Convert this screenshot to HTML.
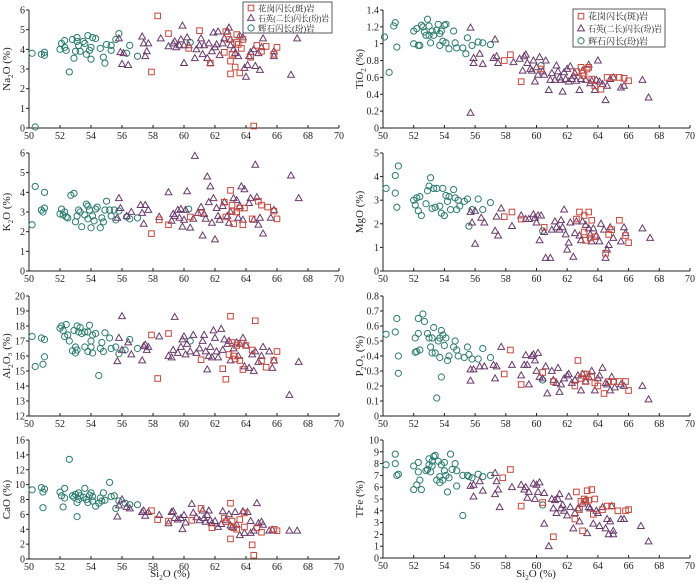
<!DOCTYPE html>
<html><head><meta charset="utf-8">
<style>
html,body{margin:0;padding:0;background:#fff;}
svg{display:block;font-family:"Liberation Serif","Noto Serif CJK SC",serif;}
</style></head>
<body>
<svg id="chart" width="700" height="584" viewBox="0 0 700 584" xmlns="http://www.w3.org/2000/svg"></svg>
<script>
// ---- data: [SiO2, oxide] per series ----
const na2oGranodiorite=[[57.9,2.85],[58.3,5.7],[59,4.8],[60.3,4.05],[61,4.95],[61.7,3.3],[62.6,3.85],[62.7,4.9],[62.9,4.5],[63,3.4],[63,2.75],[63.1,3.75],[63.3,3.1],[63.4,4.35],[63.4,4.75],[63.5,4.25],[63.6,2.8],[63.7,4.05],[63.8,4.5],[64.3,3.6],[64.5,0.1],[64.7,4.2],[65,3.9],[65.3,4.15],[65.8,3.75],[66,4.1]];
const na2oQuartzDiorite=[[55.8,4.55],[55.9,3.85],[56,3.25],[56.1,3.8],[56.4,3.2],[57.3,4.65],[57.4,4.3],[57.5,3.65],[57.6,3.9],[57.7,4.3],[58.5,4.55],[59,4.15],[59.3,4.3],[59.4,4.4],[59.5,4.1],[59.7,4.2],[59.8,4.5],[59.9,5.2],[60,3.3],[60,4.2],[60.2,4.6],[60.3,4.2],[60.7,3.55],[60.8,4.0],[61,4.2],[61.1,4.55],[61.2,3.75],[61.3,4.2],[61.5,3.55],[61.6,4.3],[61.7,3.3],[61.8,3.9],[61.9,4.85],[62,4.1],[62.1,4.25],[62.2,4.9],[62.3,3.7],[62.5,4.3],[62.6,4.55],[62.8,4.9],[62.9,5.1],[63,4.2],[63,4.5],[63.2,4.0],[63.3,3.8],[63.5,3.65],[63.6,4.7],[63.8,4.6],[63.9,3.05],[64,2.6],[64.1,3.2],[64.2,3.65],[64.3,3.85],[64.5,4.0],[64.6,3.15],[64.8,3.8],[64.9,2.95],[65,4.1],[65.1,4.55],[65.8,3.65],[65.8,3.9],[66.9,2.7],[67.3,4.55]];
const na2oPyroxeneDiorite=[[50.2,3.8],[50.4,0.05],[50.8,3.75],[51,3.85],[51,3.7],[52,4.0],[52.1,4.3],[52.3,4.45],[52.3,4.1],[52.4,3.95],[52.6,2.85],[52.8,4.5],[52.9,3.55],[53,3.9],[53.1,4.6],[53.1,4.4],[53.2,4.2],[53.3,3.9],[53.5,4.4],[53.6,4.3],[53.7,3.75],[53.8,4.7],[53.9,3.95],[54,3.5],[54,4.1],[54.1,4.6],[54.3,4.55],[54.6,4.05],[54.8,3.6],[54.9,3.3],[55,4.25],[55.3,4.2],[55.3,3.95],[55.6,4.5],[55.8,4.8],[56.3,3.8],[56.5,4.2],[57,3.65],[60.4,4.35]];

const tio2Granodiorite=[[57.9,0.8],[58.3,0.87],[59,0.55],[60.3,0.7],[62.6,0.67],[62.9,0.72],[63,0.65],[63.1,0.62],[63.3,0.7],[63.4,0.72],[63.6,0.58],[63.8,0.5],[64.2,0.46],[64.6,0.6],[65,0.6],[65.4,0.6],[65.7,0.59],[66,0.56]];
const tio2QuartzDiorite=[[55.7,1.19],[55.7,0.18],[55.9,0.83],[55.9,0.77],[56.3,0.88],[56.5,0.76],[57.2,0.83],[57.3,1.05],[57.4,0.85],[57.5,0.77],[58.5,0.78],[58.9,0.82],[59.1,0.68],[59.2,0.85],[59.3,0.87],[59.4,0.77],[59.6,0.7],[59.7,0.68],[59.8,0.8],[59.9,0.55],[60,0.72],[60.1,0.63],[60.2,0.84],[60.4,0.67],[60.5,0.63],[60.6,0.8],[60.8,0.45],[60.9,0.57],[61,0.65],[61.2,0.57],[61.3,0.74],[61.4,0.67],[61.5,0.6],[61.6,0.57],[61.7,0.43],[61.8,0.66],[61.9,0.58],[62,0.7],[62.1,0.55],[62.2,0.73],[62.3,0.58],[62.4,0.62],[62.5,0.65],[62.6,0.56],[62.8,0.45],[62.9,0.58],[63,0.68],[63.2,0.57],[63.4,0.75],[63.5,0.53],[63.6,0.56],[63.8,0.45],[63.9,0.57],[64,0.8],[64.1,0.55],[64.3,0.52],[64.5,0.33],[64.6,0.5],[64.8,0.58],[65,0.6],[65.5,0.48],[65.7,0.5],[66.9,0.57],[67.3,0.36]];
const tio2PyroxeneDiorite=[[50.1,1.08],[50.4,0.66],[50.7,1.21],[50.8,1.25],[50.9,0.96],[52,1.0],[52,1.15],[52.2,1.18],[52.3,0.98],[52.4,0.98],[52.5,1.22],[52.6,1.2],[52.7,1.14],[52.8,1.1],[52.9,1.29],[53,1.21],[53,1.1],[53.1,1.01],[53.2,1.15],[53.3,1.1],[53.5,1.16],[53.6,1.23],[53.7,0.98],[53.7,1.12],[53.8,1.15],[53.9,1.03],[54,1.22],[54.1,1.23],[54.1,1.01],[54.3,0.94],[54.6,1.15],[54.7,1.01],[54.8,0.95],[55.2,0.95],[55.4,0.88],[55.5,1.07],[55.8,0.98],[56.2,1.02],[56.5,1.01],[57,0.99],[60.3,0.74]];

const k2oGranodiorite=[[57.9,1.9],[58.4,2.6],[59,2.35],[60.4,2.75],[61.1,2.95],[62.6,3.5],[62.7,2.75],[63,4.1],[63.1,3.35],[63.1,3.05],[63.2,2.4],[63.4,3.0],[63.6,3.2],[63.8,2.35],[63.9,3.2],[64.4,2.65],[64.8,3.55],[65,3.35],[65.4,3.25],[65.8,3.05],[66,2.65]];
const k2oQuartzDiorite=[[55.7,2.7],[55.8,3.7],[55.9,3.2],[56.3,2.8],[56.6,3.0],[57.2,3.35],[57.3,2.95],[57.4,2.4],[57.5,3.35],[57.7,3.1],[58.4,2.75],[59,4.0],[59.2,2.55],[59.3,2.9],[59.4,2.8],[59.6,3.1],[59.7,2.7],[59.8,3.15],[59.9,2.25],[60,2.6],[60.1,3.1],[60.2,4.05],[60.4,2.2],[60.6,2.65],[60.7,5.85],[60.9,2.95],[61.1,3.25],[61.2,1.8],[61.3,2.9],[61.4,2.65],[61.5,4.8],[61.6,3.5],[61.7,4.3],[61.8,2.45],[61.9,3.7],[62,1.6],[62.1,3.2],[62.2,2.8],[62.3,2.6],[62.5,3.3],[62.6,3.5],[62.8,2.8],[62.9,2.45],[63,3.0],[63.2,3.7],[63.4,3.6],[63.5,2.7],[63.6,3.3],[63.7,4.3],[63.8,2.6],[63.9,4.15],[64.2,3.45],[64.3,3.7],[64.5,2.6],[64.6,5.4],[64.7,3.75],[64.8,2.35],[64.9,2.7],[65.1,1.9],[65.6,2.7],[65.8,3.1],[66.9,4.85],[67.4,3.7]];
const k2oPyroxeneDiorite=[[50.2,2.35],[50.4,4.3],[50.8,3.1],[50.9,3.0],[51,3.2],[51,4.0],[52,2.9],[52.1,3.15],[52.2,2.85],[52.3,3.0],[52.4,2.75],[52.5,2.7],[52.7,3.85],[52.9,3.95],[53,2.5],[53.1,2.8],[53.2,3.1],[53.3,3.0],[53.4,2.25],[53.6,2.85],[53.7,3.4],[53.8,3.3],[53.8,2.65],[53.9,3.1],[54,2.2],[54.1,2.8],[54.2,2.55],[54.3,3.15],[54.4,3.25],[54.6,2.2],[54.7,2.7],[54.8,2.5],[54.9,3.1],[55,3.55],[55.2,3.1],[55.3,2.8],[55.5,3.1],[55.6,2.6],[55.8,3.05],[56.3,2.75],[56.5,2.65],[57,2.7],[60.3,3.15]];

const mgoGranodiorite=[[57.9,2.3],[58.4,2.5],[59,2.2],[60.5,1.85],[62.6,2.2],[62.8,2.5],[63.1,2.35],[63.1,1.65],[63.2,1.3],[63.4,2.5],[63.5,1.4],[63.6,2.15],[63.8,1.45],[64.5,0.75],[64.7,1.55],[64.9,1.75],[65.4,2.15],[65.8,1.5],[66,1.2]];
const mgoQuartzDiorite=[[55.7,2.5],[55.8,2.05],[56,1.15],[56,2.55],[56.4,2.25],[56.6,2.05],[57.3,1.7],[57.4,2.3],[57.5,1.5],[57.7,2.65],[58.4,1.9],[59,2.35],[59.3,2.2],[59.5,2.2],[59.8,2.4],[59.9,2.25],[60,2.05],[60.1,2.35],[60.2,1.3],[60.3,2.35],[60.5,1.65],[60.6,0.55],[60.9,0.55],[61,1.75],[61.2,2.1],[61.3,1.85],[61.5,1.75],[61.6,2.15],[61.7,1.85],[61.8,2.6],[61.9,1.55],[62,0.9],[62.1,1.2],[62.2,2.05],[62.4,0.6],[62.5,1.6],[62.6,2.1],[62.8,1.5],[62.9,1.3],[63,2.1],[63.2,1.95],[63.4,1.8],[63.5,1.55],[63.6,1.25],[63.7,1.8],[63.9,1.5],[64.1,1.25],[64.2,2.0],[64.4,1.75],[64.5,0.55],[64.6,0.9],[64.7,1.1],[64.8,1.85],[65,1.4],[65.5,1.25],[65.7,1.85],[65.8,1.6],[66.9,1.8],[67.4,1.4]];
const mgoPyroxeneDiorite=[[50.2,3.5],[50.8,4.05],[50.8,3.3],[50.9,2.7],[51,4.45],[52,3.0],[52.1,2.8],[52.2,3.1],[52.3,2.55],[52.4,3.15],[52.5,2.35],[52.8,2.85],[52.9,3.4],[53,3.6],[53.1,3.95],[53.2,2.65],[53.3,3.5],[53.4,2.7],[53.5,3.5],[53.7,2.75],[53.8,2.45],[53.9,3.5],[54,2.35],[54.1,3.2],[54.2,2.95],[54.3,3.15],[54.4,2.6],[54.6,3.45],[54.7,3.1],[54.8,2.6],[54.9,3.0],[55,2.75],[55.3,2.95],[55.5,3.05],[55.6,1.9],[55.8,2.6],[56.2,3.05],[56.5,2.6],[57,2.9],[60.4,1.7]];

const al2o3Granodiorite=[[57.9,17.4],[58.3,14.5],[59,17.5],[61.1,15.75],[62.5,15.15],[62.7,14.45],[62.9,16.1],[63,18.65],[63.1,16.9],[63.2,16.0],[63.3,15.8],[63.4,16.7],[63.6,15.7],[63.7,16.85],[63.8,15.1],[64,16.7],[64.4,16.4],[64.6,18.35],[65.3,15.25],[65,15.7],[65.8,15.7],[66,16.3]];
const al2o3QuartzDiorite=[[55.7,15.65],[55.8,17.2],[56,18.65],[56,16.4],[56.4,16.9],[56.6,16.1],[57.3,15.7],[57.4,16.65],[57.5,16.75],[57.6,16.4],[57.7,16.6],[58.4,17.3],[59,16.0],[59.2,15.9],[59.3,16.4],[59.4,18.6],[59.6,16.2],[59.8,16.6],[59.9,17.1],[60,17.3],[60.1,16.1],[60.2,16.8],[60.4,16.3],[60.6,17.4],[60.8,16.2],[61,16.5],[61.2,17.0],[61.3,17.4],[61.4,16.3],[61.5,15.1],[61.6,16.0],[61.7,16.6],[61.8,15.9],[61.9,17.7],[62,17.2],[62.1,16.3],[62.2,15.9],[62.4,17.8],[62.5,16.4],[62.6,17.1],[62.8,16.8],[62.9,17.0],[63,15.7],[63.2,16.5],[63.4,16.9],[63.5,16.0],[63.6,16.8],[63.8,17.2],[63.9,15.3],[64,16.7],[64.2,15.2],[64.4,16.1],[64.5,15.0],[64.6,16.3],[64.8,15.6],[65,16.0],[65.1,16.6],[65.5,16.3],[65.7,15.2],[65.8,15.7],[66.8,13.4],[67.4,15.6]];
const al2o3PyroxeneDiorite=[[50.2,17.3],[50.4,15.3],[50.8,17.2],[50.9,15.45],[51,17.1],[51,15.95],[52,17.85],[52.1,18.0],[52.2,17.7],[52.3,17.3],[52.4,18.1],[52.5,17.4],[52.6,17.0],[52.8,16.35],[52.9,17.7],[53,16.6],[53,16.2],[53.1,18.0],[53.1,16.4],[53.2,17.6],[53.3,17.9],[53.4,17.5],[53.6,17.6],[53.6,16.6],[53.8,17.6],[53.8,16.3],[53.9,18.05],[54,16.6],[54,17.0],[54.1,17.4],[54.1,16.2],[54.3,17.5],[54.5,14.7],[54.6,16.5],[54.7,16.9],[54.8,16.3],[54.9,17.55],[55.2,17.2],[55.3,16.5],[55.6,16.6],[55.8,16.15],[56.2,16.4],[56.5,17.1],[57,16.5],[60.4,17.0]];

const p2o5Granodiorite=[[57.9,0.28],[58.3,0.44],[59,0.21],[60.4,0.29],[61.1,0.23],[62.5,0.2],[62.7,0.37],[62.9,0.25],[63.1,0.28],[63.2,0.23],[63.3,0.28],[63.6,0.26],[63.8,0.22],[64,0.2],[64.4,0.15],[64.7,0.23],[65,0.23],[65.4,0.23],[65.8,0.23],[66,0.17]];
const p2o5QuartzDiorite=[[55.7,0.31],[55.7,0.235],[55.9,0.31],[56.3,0.33],[56.6,0.33],[57.2,0.34],[57.3,0.25],[57.4,0.33],[57.7,0.46],[58.4,0.34],[59,0.27],[59.2,0.34],[59.3,0.405],[59.4,0.34],[59.5,0.21],[59.7,0.4],[59.8,0.41],[59.9,0.37],[60,0.3],[60.1,0.42],[60.2,0.26],[60.4,0.25],[60.6,0.33],[60.7,0.15],[61,0.3],[61.1,0.24],[61.3,0.22],[61.4,0.32],[61.5,0.16],[61.6,0.21],[61.8,0.25],[62,0.27],[62.1,0.28],[62.3,0.22],[62.5,0.24],[62.7,0.27],[62.9,0.17],[63,0.28],[63.2,0.23],[63.4,0.26],[63.6,0.3],[63.8,0.17],[64,0.25],[64.1,0.27],[64.3,0.32],[64.5,0.22],[64.6,0.21],[64.8,0.17],[64.9,0.26],[65.1,0.19],[65.5,0.21],[65.7,0.2],[66.9,0.2],[67.3,0.11]];
const p2o5PyroxeneDiorite=[[50.2,0.545],[50.8,0.56],[50.9,0.65],[51,0.4],[51,0.285],[52.1,0.52],[52.1,0.425],[52.2,0.43],[52.3,0.65],[52.3,0.55],[52.4,0.44],[52.6,0.68],[52.7,0.63],[52.9,0.55],[53,0.52],[53.1,0.46],[53.2,0.52],[53.2,0.42],[53.3,0.59],[53.4,0.42],[53.5,0.12],[53.6,0.5],[53.7,0.52],[53.7,0.39],[53.8,0.57],[53.8,0.26],[53.9,0.54],[54,0.47],[54.1,0.52],[54.2,0.37],[54.3,0.4],[54.6,0.46],[54.7,0.5],[54.8,0.44],[54.9,0.4],[55.3,0.39],[55.5,0.46],[55.6,0.41],[55.8,0.38],[56.2,0.38],[56.5,0.45],[57,0.39],[60.4,0.24]];

const caoGranodiorite=[[57.9,6.5],[58.3,5.3],[59,5.1],[60.5,5.2],[61.1,6.8],[61.8,4.2],[62.6,5.5],[62.7,5.0],[63,7.5],[63,2.7],[63.1,5.1],[63.2,4.2],[63.4,4.0],[63.6,5.3],[63.9,6.2],[63.9,4.3],[64.4,1.9],[64.5,0.5],[64.7,4.2],[65,3.6],[65.8,4.0],[66,3.8]];
const caoQuartzDiorite=[[55.7,5.7],[55.8,7.2],[56,8.0],[56.3,7.0],[56.5,6.8],[57.3,6.3],[57.4,6.5],[57.5,5.8],[57.7,6.3],[58.4,5.9],[59,4.8],[59.2,6.3],[59.3,6.4],[59.4,5.5],[59.6,5.3],[59.8,5.5],[59.9,4.0],[60,5.9],[60.1,4.9],[60.5,7.4],[60.6,6.2],[60.8,5.6],[61,5.2],[61.2,6.5],[61.3,5.5],[61.4,5.0],[61.5,5.9],[61.6,6.5],[61.7,5.2],[61.8,4.8],[62,5.1],[62.2,4.3],[62.4,4.7],[62.5,6.4],[62.7,5.2],[62.9,6.0],[63,4.5],[63.1,4.3],[63.3,6.3],[63.4,4.6],[63.6,3.2],[63.8,6.4],[63.9,3.5],[64.1,6.3],[64.3,3.5],[64.3,5.1],[64.5,3.8],[64.7,7.5],[64.8,4.8],[65,5.0],[65.1,4.6],[65.5,3.8],[65.7,3.9],[66.8,3.8],[67.3,3.8]];
const caoPyroxeneDiorite=[[50.2,9.3],[50.8,9.6],[50.9,9.0],[50.9,6.9],[51,9.4],[52,9.0],[52.1,8.5],[52.2,7.0],[52.3,9.5],[52.3,8.2],[52.6,13.4],[52.8,8.5],[52.9,8.3],[53,8.7],[53.1,7.6],[53.1,5.7],[53.2,8.9],[53.2,8.0],[53.3,8.5],[53.5,8.3],[53.6,9.5],[53.7,8.0],[53.8,7.6],[53.9,8.6],[54,8.9],[54.1,8.4],[54.1,7.8],[54.3,7.1],[54.5,7.5],[54.6,8.2],[54.7,7.8],[54.8,8.9],[54.9,7.9],[55.2,10.3],[55.3,8.4],[55.5,8.5],[55.6,6.8],[55.8,7.8],[56.2,7.5],[56.5,7.3],[57,7.3]];

const tfeGranodiorite=[[57.8,6.8],[58.3,7.5],[59,4.4],[60.4,4.7],[61.1,1.8],[62.5,3.3],[62.6,5.6],[62.8,4.1],[62.9,4.8],[63,2.3],[63.1,5.0],[63.2,4.8],[63.3,5.7],[63.4,4.9],[63.6,5.8],[63.7,3.7],[63.8,5.0],[64.3,4.1],[64.6,4.4],[64.9,4.4],[65.3,4.0],[65.8,4.0],[66,4.1]];
const tfeQuartzDiorite=[[55.7,6.1],[55.9,6.2],[55.9,5.2],[56.3,6.5],[56.5,5.7],[57.3,5.4],[57.3,7.2],[57.4,6.5],[57.5,5.8],[57.6,4.3],[58.4,6.0],[59,6.2],[59.2,5.8],[59.3,6.0],[59.4,5.1],[59.5,5.6],[59.8,6.3],[59.9,5.0],[60,6.2],[60.1,5.6],[60.2,6.4],[60.5,5.5],[60.5,2.9],[60.8,1.0],[61,5.0],[61.1,4.2],[61.2,4.9],[61.3,3.8],[61.4,5.0],[61.5,5.4],[61.6,4.2],[61.7,4.5],[61.8,4.0],[62,3.6],[62.1,5.2],[62.2,4.3],[62.4,2.5],[62.5,3.8],[62.7,4.2],[62.8,3.1],[63,4.6],[63.2,4.9],[63.3,2.1],[63.4,4.3],[63.5,4.2],[63.7,2.9],[63.9,4.0],[64,3.8],[64.1,2.7],[64.3,4.3],[64.5,2.5],[64.6,3.3],[64.7,2.0],[64.8,3.1],[64.9,4.4],[65,2.3],[65,2.0],[65.5,3.3],[65.7,3.3],[66.8,2.7],[67.3,1.4]];
const tfePyroxeneDiorite=[[50.2,7.9],[50.8,8.0],[50.8,8.8],[50.9,7.0],[51,7.1],[52,5.8],[52,7.8],[52.2,6.2],[52.3,8.1],[52.3,7.3],[52.4,6.6],[52.5,5.8],[52.8,7.4],[52.9,7.5],[53,8.4],[53,7.9],[53.1,7.3],[53.2,8.2],[53.2,7.8],[53.3,8.6],[53.4,8.7],[53.5,6.6],[53.6,8.2],[53.7,6.4],[53.7,6.9],[53.8,7.9],[53.9,6.6],[54,8.1],[54,7.4],[54.1,7.0],[54.2,5.6],[54.3,6.8],[54.4,8.8],[54.5,7.5],[54.7,8.0],[54.8,6.1],[54.8,7.4],[55.2,7.0],[55.2,3.6],[55.5,7.0],[55.6,6.9],[55.8,6.8],[56.2,7.1],[56.5,6.9],[57,7.0],[60.4,4.5]];

const xTicks=[50,52,54,56,58,60,62,64,66,68,70];
const seriesNames=["花岗闪长(斑)岩","石英(二长)闪长(玢)岩","辉石闪长(玢)岩"];
const yTicksNa2O=[0,1,2,3,4,5,6];
const yTicksTiO2=[0,0.2,0.4,0.6,0.8,1,1.2,1.4];
const yTicksK2O=[0,1,2,3,4,5,6];
const yTicksMgO=[0,1,2,3,4,5];
const yTicksAl2O3=[12,13,14,15,16,17,18,19,20];
const yTicksP2O5=[0,0.1,0.2,0.3,0.4,0.5,0.6,0.7,0.8];
const yTicksCaO=[0,2,4,6,8,10,12,14,16];
const yTicksTFe=[0,1,2,3,4,5,6,7,8,9,10];

const COLORS=["#c9473b","#6a3a6c","#2b7c70"];
const NS="http://www.w3.org/2000/svg";
const svg=document.getElementById('chart');
function mk(tag,attrs,parent){const e=document.createElementNS(NS,tag);for(const k in attrs)e.setAttribute(k,attrs[k]);(parent||svg).appendChild(e);return e;}

const panels=[
 {id:'na2o',title:['Na','2','O (%)'],col:0,top:10,bot:128,ticks:yTicksNa2O,s:[na2oGranodiorite,na2oQuartzDiorite,na2oPyroxeneDiorite]},
 {id:'tio2',title:['TiO','2',' (%)'],col:1,top:10,bot:128,ticks:yTicksTiO2,s:[tio2Granodiorite,tio2QuartzDiorite,tio2PyroxeneDiorite]},
 {id:'k2o',title:['K','2','O (%)'],col:0,top:153,bot:271,ticks:yTicksK2O,s:[k2oGranodiorite,k2oQuartzDiorite,k2oPyroxeneDiorite]},
 {id:'mgo',title:['MgO (%)','',''],col:1,top:153,bot:271,ticks:yTicksMgO,s:[mgoGranodiorite,mgoQuartzDiorite,mgoPyroxeneDiorite]},
 {id:'al2o3',title:['Al','2','O₃ (%)'],col:0,top:296,bot:416,ticks:yTicksAl2O3,s:[al2o3Granodiorite,al2o3QuartzDiorite,al2o3PyroxeneDiorite]},
 {id:'p2o5',title:['P','2','O₅ (%)'],col:1,top:296,bot:416,ticks:yTicksP2O5,s:[p2o5Granodiorite,p2o5QuartzDiorite,p2o5PyroxeneDiorite]},
 {id:'cao',title:['CaO (%)','',''],col:0,top:440,bot:559,ticks:yTicksCaO,s:[caoGranodiorite,caoQuartzDiorite,caoPyroxeneDiorite]},
 {id:'tfe',title:['TFe (%)','',''],col:1,top:440,bot:558,ticks:yTicksTFe,s:[tfeGranodiorite,tfeQuartzDiorite,tfePyroxeneDiorite]}
];
const COLS=[{x0:29,x1:339,ytx:10},{x0:383,x1:690,ytx:363}];

function marker(g,type,cx,cy,color){
  let e;
  if(type===0){e=mk('rect',{x:cx-2.8,y:cy-2.8,width:5.6,height:5.6,fill:'none',stroke:color,'stroke-width':1},g);
    }
  else if(type===1){e=mk('polygon',{points:`${cx},${cy-3.6} ${cx-3.4},${cy+2.4} ${cx+3.4},${cy+2.4}`,fill:'none',stroke:color,'stroke-width':1},g);
    }
  else {e=mk('circle',{cx:cx,cy:cy,r:3.1,fill:'none',stroke:color,'stroke-width':1},g);
    }
  
  return e;
}

panels.forEach(p=>{
  const c=COLS[p.col];
  const ymin=p.ticks[0],ymax=p.ticks[p.ticks.length-1];
  const sx=v=>c.x0+(v-50)/(70-50)*(c.x1-c.x0);
  const sy=v=>p.bot-(v-ymin)/(ymax-ymin)*(p.bot-p.top);
  const g=mk('g',{});
  
  
  const ax=mk('path',{d:`M${c.x0},${p.top} V${p.bot} H${c.x1}`,fill:'none',stroke:'#222','stroke-width':1},g);
  
  
  p.ticks.forEach(t=>{
    const y=sy(t);
    mk('line',{x1:c.x0-3,y1:y,x2:c.x0,y2:y,stroke:'#222','stroke-width':1},g);
    const tx=mk('text',{x:c.x0-4,y:y+3.5,'font-size':10,'text-anchor':'end',fill:'#222'},g);
    tx.textContent=String(t);
    
    
  });
  xTicks.forEach(t=>{
    const x=sx(t);
    mk('line',{x1:x,y1:p.bot,x2:x,y2:p.bot-3,stroke:'#222','stroke-width':1},g);
    const tx=mk('text',{x:x,y:p.bot+11,'font-size':10,'text-anchor':'middle',fill:'#222'},g);
    tx.textContent=String(t);
    
    
  });
  const cy=(p.top+p.bot)/2;
  const yt=mk('text',{x:0,y:0,'font-size':11,'text-anchor':'middle',fill:'#222',transform:`translate(${c.ytx},${cy}) rotate(-90)`},g);
  
  
  const t1=mk('tspan',{},yt);t1.textContent=p.title[0];
  if(p.title[1]){const t2=mk('tspan',{'font-size':7,dy:3},yt);t2.textContent=p.title[1];
    const t3=mk('tspan',{dy:-3},yt);t3.textContent=p.title[2];}
  [2,1,0].forEach(si=>{
    p.s[si].forEach(d=>marker(g,si,sx(d[0]),sy(d[1]),COLORS[si]));
  });
});

// x axis titles
[[170,577],[536,577]].forEach(pos=>{
  const t=mk('text',{x:pos[0],y:pos[1],'font-size':11,'text-anchor':'middle',fill:'#222'});
  
  
  const a=mk('tspan',{},t);a.textContent='Si';
  const b=mk('tspan',{'font-size':7,dy:3},t);b.textContent='2';
  const d=mk('tspan',{dy:-3},t);d.textContent='O (%)';
});

// legends
function legend(x,y,w,h,rowH,fs,name){
  const g=mk('g',{});
  
  
  mk('rect',{x:x,y:y,width:w,height:h,fill:'#fff',stroke:'#333','stroke-width':0.8},g);
  seriesNames.forEach((n,i)=>{
    const ry=y+rowH*(i+0.5)+1;
    marker(g,i,x+8,ry,COLORS[i]);
    const t=mk('text',{x:x+15,y:ry+3.5,'font-size':fs,fill:'#222','font-family':'"Liberation Serif","Noto Serif CJK SC",serif'},g);
    t.textContent=n;
    
    
    const maxW=w-18;
    if(t.getComputedTextLength()>maxW){t.setAttribute('textLength',maxW);t.setAttribute('lengthAdjust','spacingAndGlyphs');}
  });
}
legend(243,2,89,31,10,8.5,'legend-na2o');
legend(573,9,92,38,12.3,9,'legend-tio2');
</script>
</body></html>
